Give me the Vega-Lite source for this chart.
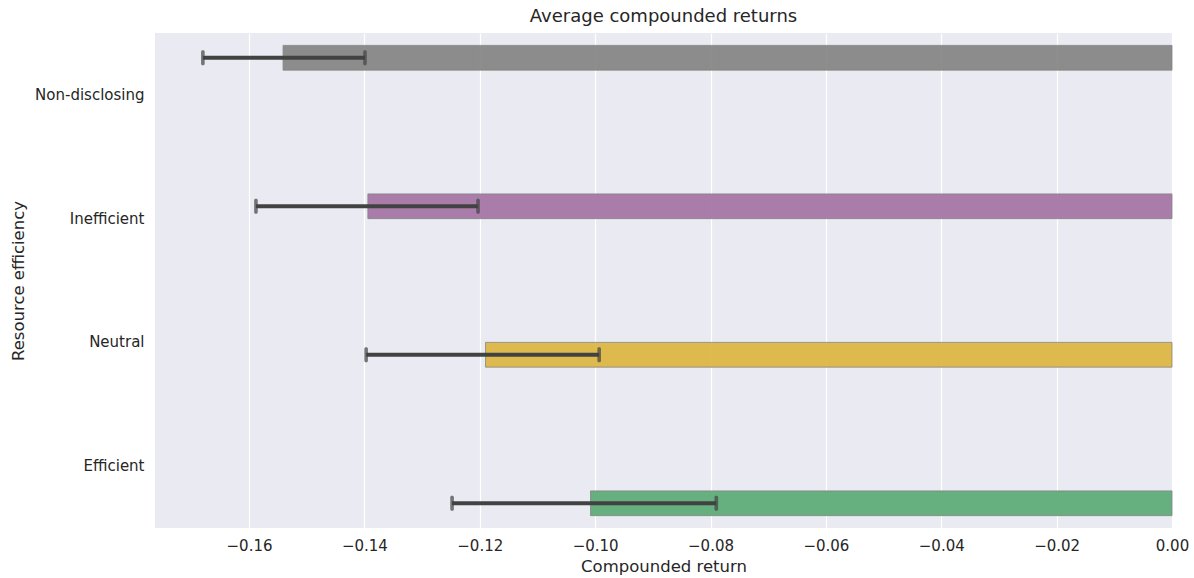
{
  "$schema": "https://vega.github.io/schema/vega-lite/v6.json",
  "width": 1017,
  "height": 495,
  "autosize": {"type": "none"},
  "padding": {"left": 155, "top": 33, "right": 22, "bottom": 50},
  "background": "white",
  "title": {"text": "Average compounded returns", "fontSize": 18, "font": "DejaVu Sans", "fontWeight": "normal", "color": "#262626", "offset": 7},
  "config": {
    "view": {"stroke": null, "fill": "#eaeaf2"},
    "font": "DejaVu Sans",
    "axis": {"domain": false, "ticks": false, "labelColor": "#262626", "titleColor": "#262626", "labelFont": "DejaVu Sans", "titleFont": "DejaVu Sans", "titleFontWeight": "normal", "labelFontSize": 15, "titleFontSize": 16.5, "gridColor": "white", "gridWidth": 1.2, "gridOpacity": 1}
  },
  "data": {"values": [
    {"cat": "Non-disclosing", "mean": -0.1541, "lo": -0.168, "hi": -0.1399},
    {"cat": "Inefficient", "mean": -0.1394, "lo": -0.1588, "hi": -0.1203},
    {"cat": "Neutral", "mean": -0.119, "lo": -0.1397, "hi": -0.0993},
    {"cat": "Efficient", "mean": -0.1008, "lo": -0.1248, "hi": -0.079}
  ]},
  "encoding": {
    "y": {"field": "cat", "type": "nominal", "sort": ["Non-disclosing", "Inefficient", "Neutral", "Efficient"], "scale": {"paddingInner": 0.2, "paddingOuter": 0.1}, "axis": {"title": "Resource efficiency", "grid": false, "labelPadding": 11, "titlePadding": 8}},
    "yOffset": {"field": "cat", "type": "nominal", "sort": ["Non-disclosing", "Inefficient", "Neutral", "Efficient"], "scale": {"paddingInner": 0, "paddingOuter": 0}}
  },
  "layer": [
    {
      "mark": {"type": "bar", "stroke": "#7f7f7f", "strokeWidth": 0.8, "opacity": 0.95},
      "encoding": {
        "x": {"field": "mean", "type": "quantitative", "stack": null, "scale": {"domain": [-0.1763, 0], "nice": false, "zero": false}, "axis": {"title": "Compounded return", "values": [-0.16, -0.14, -0.12, -0.1, -0.08, -0.06, -0.04, -0.02, 0], "format": ".2f", "labelPadding": 10, "titlePadding": 5, "labelFlush": false, "labelOverlap": false}},
        "color": {"field": "cat", "type": "nominal", "scale": {"domain": ["Non-disclosing", "Inefficient", "Neutral", "Efficient"], "range": ["#888888", "#a677a7", "#deb746", "#5fac78"]}, "legend": null}
      }
    },
    {
      "mark": {"type": "rule", "color": "#424242", "strokeWidth": 3.8},
      "encoding": {
        "x": {"field": "lo", "type": "quantitative"},
        "x2": {"field": "hi"}
      }
    },
    {
      "mark": {"type": "tick", "color": "#424242", "thickness": 3.6, "size": 15, "cornerRadius": 1.5},
      "encoding": {"x": {"field": "lo", "type": "quantitative"}}
    },
    {
      "mark": {"type": "tick", "color": "#424242", "thickness": 3.6, "size": 15, "cornerRadius": 1.5},
      "encoding": {"x": {"field": "hi", "type": "quantitative"}}
    }
  ]
}
